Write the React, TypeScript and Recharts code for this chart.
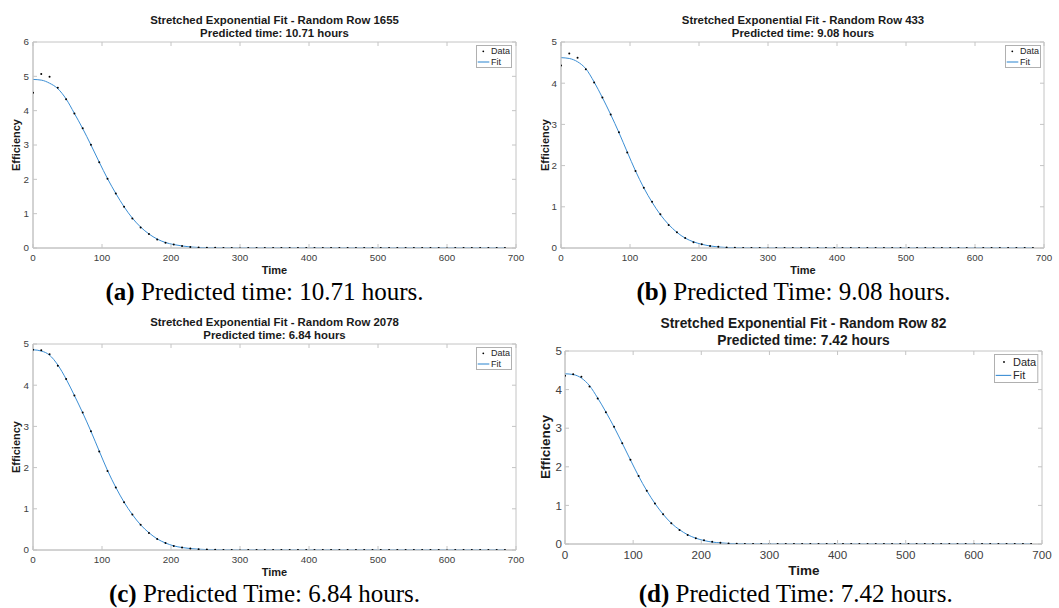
import React from 'react';
import { ComposedChart, Line, XAxis, YAxis, ReferenceArea } from 'recharts';

// ---------- data ----------
const TIME = [0, 12, 24, 36, 48, 60, 72, 84, 96, 108, 120, 132, 144, 156, 168, 180, 192, 204, 216, 228, 240, 252, 264, 276, 288, 300, 312, 324, 336, 348, 360, 372, 384, 396, 408, 420, 432, 444, 456, 468, 480, 492, 504, 516, 528, 540, 552, 564, 576, 588, 600, 612, 624, 636, 648, 660, 672, 684];

const X_TICKS = [0, 100, 200, 300, 400, 500, 600, 700];
const Y_TICKS_6 = [0, 1, 2, 3, 4, 5, 6];
const Y_TICKS_5 = [0, 1, 2, 3, 4, 5];

const DATA_A = [4.52, 5.07, 4.99, 4.67, 4.33, 3.92, 3.49, 3.01, 2.50, 2.02, 1.59, 1.20, 0.86, 0.60, 0.41, 0.25, 0.15, 0.10, 0.06, 0.03, 0.015, 0.008, 0.004, 0.002, 0.001, 0, 0, 0, 0, 0, 0, 0, 0, 0, 0, 0, 0, 0, 0, 0, 0, 0, 0, 0, 0, 0, 0, 0, 0, 0, 0, 0, 0, 0, 0, 0, 0, 0];
const FIT_A = [4.91, 4.89, 4.80, 4.64, 4.34, 3.92, 3.48, 3.00, 2.50, 2.02, 1.59, 1.20, 0.87, 0.61, 0.41, 0.26, 0.16, 0.10, 0.06, 0.03, 0.015, 0.007, 0.003, 0.001, 0.0005, 0, 0, 0, 0, 0, 0, 0, 0, 0, 0, 0, 0, 0, 0, 0, 0, 0, 0, 0, 0, 0, 0, 0, 0, 0, 0, 0, 0, 0, 0, 0, 0, 0];

const DATA_B = [4.43, 4.72, 4.62, 4.34, 4.02, 3.65, 3.24, 2.81, 2.32, 1.87, 1.46, 1.12, 0.82, 0.56, 0.38, 0.24, 0.14, 0.09, 0.05, 0.03, 0.014, 0.007, 0.003, 0.001, 0.0005, 0, 0, 0, 0, 0, 0, 0, 0, 0, 0, 0, 0, 0, 0, 0, 0, 0, 0, 0, 0, 0, 0, 0, 0, 0, 0, 0, 0, 0, 0, 0, 0, 0];
const FIT_B = [4.62, 4.60, 4.52, 4.35, 4.03, 3.65, 3.24, 2.80, 2.33, 1.87, 1.46, 1.11, 0.81, 0.57, 0.38, 0.24, 0.15, 0.09, 0.05, 0.025, 0.012, 0.005, 0.002, 0.001, 0.0005, 0, 0, 0, 0, 0, 0, 0, 0, 0, 0, 0, 0, 0, 0, 0, 0, 0, 0, 0, 0, 0, 0, 0, 0, 0, 0, 0, 0, 0, 0, 0, 0, 0];

const DATA_C = [4.86, 4.85, 4.75, 4.47, 4.15, 3.75, 3.34, 2.88, 2.39, 1.92, 1.52, 1.16, 0.86, 0.61, 0.41, 0.27, 0.17, 0.10, 0.06, 0.035, 0.02, 0.01, 0.005, 0.002, 0.001, 0, 0, 0, 0, 0, 0, 0, 0, 0, 0, 0, 0, 0, 0, 0, 0, 0, 0, 0, 0, 0, 0, 0, 0, 0, 0, 0, 0, 0, 0, 0, 0, 0];
const FIT_C = [4.86, 4.83, 4.73, 4.49, 4.15, 3.75, 3.33, 2.88, 2.40, 1.93, 1.52, 1.16, 0.86, 0.61, 0.42, 0.27, 0.17, 0.10, 0.06, 0.035, 0.02, 0.01, 0.005, 0.002, 0.001, 0, 0, 0, 0, 0, 0, 0, 0, 0, 0, 0, 0, 0, 0, 0, 0, 0, 0, 0, 0, 0, 0, 0, 0, 0, 0, 0, 0, 0, 0, 0, 0, 0];

const DATA_D = [4.36, 4.40, 4.33, 4.08, 3.77, 3.41, 3.04, 2.61, 2.18, 1.76, 1.38, 1.05, 0.77, 0.54, 0.36, 0.23, 0.15, 0.10, 0.06, 0.03, 0.015, 0.007, 0.003, 0.001, 0.0005, 0, 0, 0, 0, 0, 0, 0, 0, 0, 0, 0, 0, 0, 0, 0, 0, 0, 0, 0, 0, 0, 0, 0, 0, 0, 0, 0, 0, 0, 0, 0, 0, 0];
const FIT_D = [4.41, 4.39, 4.30, 4.10, 3.78, 3.42, 3.03, 2.61, 2.18, 1.76, 1.38, 1.05, 0.77, 0.54, 0.37, 0.24, 0.15, 0.09, 0.05, 0.03, 0.015, 0.007, 0.003, 0.001, 0.0005, 0, 0, 0, 0, 0, 0, 0, 0, 0, 0, 0, 0, 0, 0, 0, 0, 0, 0, 0, 0, 0, 0, 0, 0, 0, 0, 0, 0, 0, 0, 0, 0, 0];

const TITLE_A = ['Stretched Exponential Fit - Random Row 1655', 'Predicted time: 10.71 hours'];
const TITLE_B = ['Stretched Exponential Fit - Random Row 433', 'Predicted time: 9.08 hours'];
const TITLE_C = ['Stretched Exponential Fit - Random Row 2078', 'Predicted time: 6.84 hours'];
const TITLE_D = ['Stretched Exponential Fit - Random Row 82', 'Predicted time: 7.42 hours'];

const CAPTION_A = ['(a)', ' Predicted time: 10.71 hours.'];
const CAPTION_B = ['(b)', ' Predicted Time: 9.08 hours.'];
const CAPTION_C = ['(c)', ' Predicted Time: 6.84 hours.'];
const CAPTION_D = ['(d)', ' Predicted Time: 7.42 hours.'];

const X_LABEL = 'Time';
const Y_LABEL = 'Efficiency';
const LEGEND_DATA = 'Data';
const LEGEND_FIT = 'Fit';

// ---------- styles ----------
const SANS = '"Liberation Sans", Arial, Helvetica, sans-serif';
const SERIF = '"Liberation Serif", "Times New Roman", serif';
const AXIS_COLOR = '#c4c4c4';
const TICK_COLOR = '#404040';
const FIT_COLOR = '#3b8ed4';
const TL = 4;

type Layout = {
  chartLeft: number; chartTop: number; chartW: number; chartH: number;
  pl: number; pr: number; pt: number; pb: number;
  tickFs: number; titleFs: number; labelFs: number; legendFs: number;
  xTm: number; yTm: number;
  title1: [number, number]; title2: [number, number];
  xLabel: [number, number]; yLabel: [number, number];
  caption: [number, number];
  legend: { l: number; t: number; w: number; h: number; dotX: number; textX: number; r1: number; r2: number; lx1: number; lx2: number };
};

type Panel = {
  data: number[]; fit: number[]; yTicks: number[];
  title: string[]; caption: string[]; layout: Layout;
};

const YAW = 30;
const XAH = 20;

const PANELS: Panel[] = [
  {
    data: DATA_A, fit: FIT_A, yTicks: Y_TICKS_6, title: TITLE_A, caption: CAPTION_A,
    layout: {
      chartLeft: 0, chartTop: 0, chartW: 545, chartH: 282,
      pl: 33, pr: 516, pt: 42, pb: 248,
      tickFs: 9.8, titleFs: 11.4, labelFs: 11, legendFs: 9,
      xTm: 6, yTm: 4,
      title1: [274.5, 21], title2: [274.5, 34], xLabel: [274.5, 270], yLabel: [16, 145],
      caption: [264.5, 291.5],
      legend: { l: 476, t: 45, w: 36, h: 23, dotX: 7.3, textX: 15, r1: 6.3, r2: 17, lx1: 1.7, lx2: 13.3 },
    },
  },
  {
    data: DATA_B, fit: FIT_B, yTicks: Y_TICKS_5, title: TITLE_B, caption: CAPTION_B,
    layout: {
      chartLeft: 529, chartTop: 0, chartW: 530, chartH: 282,
      pl: 561, pr: 1044, pt: 42, pb: 248,
      tickFs: 9.8, titleFs: 11.4, labelFs: 11, legendFs: 9,
      xTm: 6, yTm: 4,
      title1: [803, 21], title2: [803, 34], xLabel: [803, 270], yLabel: [544.5, 145],
      caption: [793.5, 291.5],
      legend: { l: 1005, t: 45, w: 36, h: 23, dotX: 7.3, textX: 15, r1: 6.3, r2: 17, lx1: 1.7, lx2: 13.3 },
    },
  },
  {
    data: DATA_C, fit: FIT_C, yTicks: Y_TICKS_5, title: TITLE_C, caption: CAPTION_C,
    layout: {
      chartLeft: 0, chartTop: 300, chartW: 545, chartH: 282,
      pl: 33, pr: 516, pt: 344, pb: 550,
      tickFs: 9.8, titleFs: 11.4, labelFs: 11, legendFs: 9,
      xTm: 6, yTm: 4,
      title1: [274.5, 323.3], title2: [274.5, 336], xLabel: [274.5, 572.3], yLabel: [16, 447.3],
      caption: [264.5, 594],
      legend: { l: 476, t: 347.3, w: 36, h: 23, dotX: 7.3, textX: 15, r1: 6.3, r2: 17, lx1: 1.7, lx2: 13.3 },
    },
  },
  {
    data: DATA_D, fit: FIT_D, yTicks: Y_TICKS_5, title: TITLE_D, caption: CAPTION_D,
    layout: {
      chartLeft: 529, chartTop: 300, chartW: 530, chartH: 282,
      pl: 565, pr: 1042, pt: 351, pb: 544,
      tickFs: 11.6, titleFs: 13.8, labelFs: 13.5, legendFs: 11,
      xTm: 7, yTm: 3,
      title1: [803.5, 324.3], title2: [803.5, 340.7], xLabel: [804, 570.7], yLabel: [545.7, 446.7],
      caption: [795.7, 594],
      legend: { l: 994, t: 354.3, w: 44.3, h: 29, dotX: 10, textX: 19, r1: 8, r2: 21.4, lx1: 1.7, lx2: 17.3 },
    },
  },
];

// ---------- tick renderers (inward ticks on all four sides of the box) ----------
const bottomTick = (fs: number, tm: number, plotH: number) => (props: any) => {
  const { x, y, payload } = props;
  const yb = y - tm;
  return (
    <g>
      <line x1={x} x2={x} y1={yb} y2={yb - TL} stroke={AXIS_COLOR} strokeWidth={1} />
      <line x1={x} x2={x} y1={yb - plotH} y2={yb - plotH + TL} stroke={AXIS_COLOR} strokeWidth={1} />
      <text x={x} y={y} dy="0.71em" textAnchor="middle" fontSize={fs} fontFamily={SANS} fill={TICK_COLOR}>
        {payload.value}
      </text>
    </g>
  );
};

const leftTick = (fs: number, tm: number, plotW: number) => (props: any) => {
  const { x, y, payload } = props;
  const xl = x + tm;
  return (
    <g>
      <line x1={xl} x2={xl + TL} y1={y} y2={y} stroke={AXIS_COLOR} strokeWidth={1} />
      <line x1={xl + plotW} x2={xl + plotW - TL} y1={y} y2={y} stroke={AXIS_COLOR} strokeWidth={1} />
      <text x={x} y={y} dy="0.355em" textAnchor="end" fontSize={fs} fontFamily={SANS} fill={TICK_COLOR}>
        {payload.value}
      </text>
    </g>
  );
};

// ---------- text helpers ----------
const Txt = ({ x, y, fs, children, bold = true, rotate = 0, family = SANS, color = '#1a1a1a' }: any) => (
  <div
    style={{
      position: 'absolute', left: x, top: y, transform: `translate(-50%, -50%) rotate(${rotate}deg)`,
      fontFamily: family, fontSize: fs, fontWeight: bold ? 700 : 400, lineHeight: 1, whiteSpace: 'nowrap', color,
    }}
  >
    {children}
  </div>
);

const LegendBox = ({ L }: { L: Layout }) => {
  const g = L.legend;
  return (
    <svg style={{ position: 'absolute', left: g.l, top: g.t, overflow: 'visible' }} width={g.w} height={g.h}>
      <rect x={0.5} y={0.5} width={g.w - 1} height={g.h - 1} fill="#fff" stroke="#b0b0b0" strokeWidth={1} />
      <circle cx={g.dotX} cy={g.r1} r={0.9} fill="#000" />
      <text x={g.textX} y={g.r1} dy="0.355em" fontSize={L.legendFs} fontFamily={SANS} fill="#262626">{LEGEND_DATA}</text>
      <line x1={g.lx1} x2={g.lx2} y1={g.r2} y2={g.r2} stroke={FIT_COLOR} strokeWidth={1.1} />
      <text x={g.textX} y={g.r2} dy="0.355em" fontSize={L.legendFs} fontFamily={SANS} fill="#262626">{LEGEND_FIT}</text>
    </svg>
  );
};

const PanelView = ({ p }: { p: Panel }) => {
  const L = p.layout;
  const rows = TIME.map((t, i) => ({ t, data: p.data[i], fit: p.fit[i] }));
  const yMax = p.yTicks[p.yTicks.length - 1];
  const plotW = L.pr - L.pl;
  const plotH = L.pb - L.pt;
  const margin = {
    top: L.pt - L.chartTop,
    left: L.pl - L.chartLeft - YAW,
    right: L.chartLeft + L.chartW - L.pr,
    bottom: L.chartTop + L.chartH - L.pb - XAH,
  };
  return (
    <>
      <div style={{ position: 'absolute', left: L.chartLeft, top: L.chartTop }}>
        <ComposedChart width={L.chartW} height={L.chartH} data={rows} margin={margin}>
          <XAxis
            xAxisId="b" dataKey="t" type="number" domain={[0, 700]} ticks={X_TICKS} interval={0}
            height={XAH} tickSize={0} tickMargin={L.xTm} tick={bottomTick(L.tickFs, L.xTm, plotH)}
            tickLine={false} axisLine={{ stroke: AXIS_COLOR }} allowDataOverflow
          />
          <YAxis
            yAxisId="l" type="number" domain={[0, yMax]} ticks={p.yTicks} interval={0}
            width={YAW} tickSize={0} tickMargin={L.yTm} tick={leftTick(L.tickFs, L.yTm, plotW)}
            tickLine={false} axisLine={{ stroke: AXIS_COLOR }} allowDataOverflow
          />
          <ReferenceArea
            xAxisId="b" yAxisId="l" x1={0} x2={700} y1={0} y2={yMax}
            fill="none" fillOpacity={0} stroke={AXIS_COLOR} strokeWidth={1} ifOverflow="visible"
          />
          <Line
            xAxisId="b" yAxisId="l" dataKey="fit" type="monotone" stroke={FIT_COLOR} strokeWidth={1}
            dot={false} activeDot={false} isAnimationActive={false}
          />
          <Line
            xAxisId="b" yAxisId="l" dataKey="data" stroke="none" strokeWidth={0}
            dot={{ r: 1, fill: '#000', stroke: 'none' }} activeDot={false} isAnimationActive={false}
          />
        </ComposedChart>
      </div>
      <Txt x={L.title1[0]} y={L.title1[1]} fs={L.titleFs}>{p.title[0]}</Txt>
      <Txt x={L.title2[0]} y={L.title2[1]} fs={L.titleFs}>{p.title[1]}</Txt>
      <Txt x={L.xLabel[0]} y={L.xLabel[1]} fs={L.labelFs}>{X_LABEL}</Txt>
      <Txt x={L.yLabel[0]} y={L.yLabel[1]} fs={L.labelFs} rotate={-90}>{Y_LABEL}</Txt>
      <LegendBox L={L} />
      <div
        style={{
          position: 'absolute', left: L.caption[0], top: L.caption[1], transform: 'translate(-50%, -50%)',
          fontFamily: SERIF, fontSize: 25, lineHeight: 0.9, whiteSpace: 'nowrap', color: '#000',
        }}
      >
        <b>{p.caption[0]}</b>{p.caption[1]}
      </div>
    </>
  );
};

export default function App() {
  return (
    <div style={{ position: 'absolute', left: 0, top: 0, width: 1059, height: 608, background: '#fff', overflow: 'hidden' }}>
      {PANELS.map((p, i) => (
        <PanelView key={i} p={p} />
      ))}
    </div>
  );
}
